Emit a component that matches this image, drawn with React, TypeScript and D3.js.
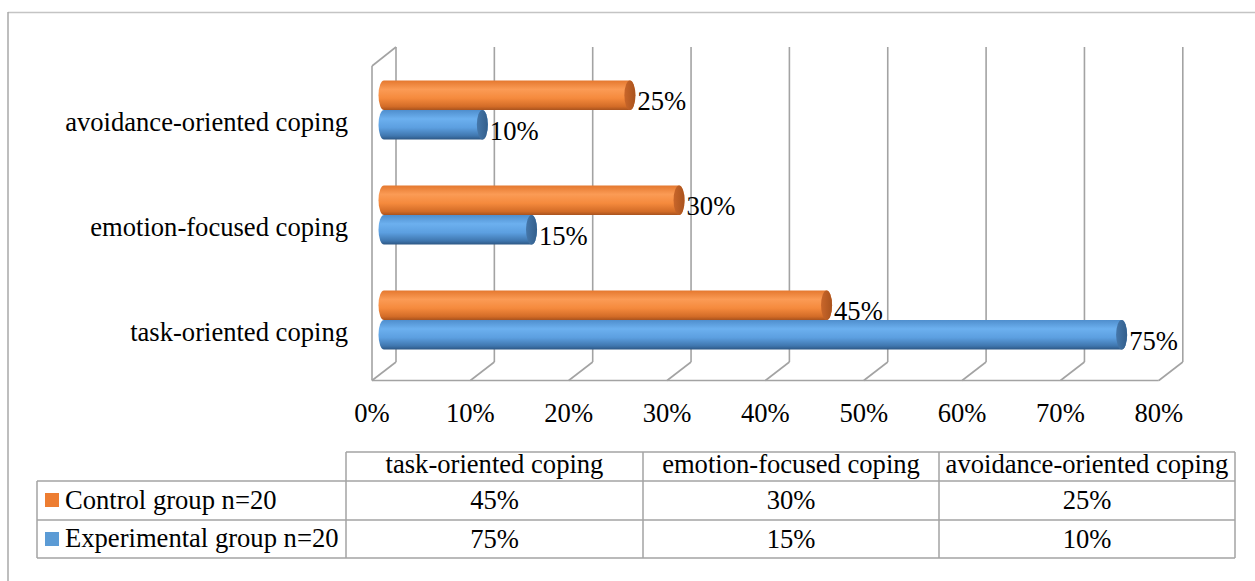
import React from "react";
import * as d3 from "d3";

const categories = ["avoidance-oriented coping", "emotion-focused coping", "task-oriented coping"];
const tableOrder = ["task-oriented coping", "emotion-focused coping", "avoidance-oriented coping"];
const controlValues = [0.25, 0.30, 0.45];
const experimentalValues = [0.10, 0.15, 0.75];
const seriesNames = ["Control group n=20", "Experimental group n=20"];
const ticks = [0, 0.1, 0.2, 0.3, 0.4, 0.5, 0.6, 0.7, 0.8];

const FONT = "'Liberation Serif', 'Times New Roman', serif";
const FS = 26.6;

export default function App() {
  const k = 983.5;
  const front = d3.scaleLinear().domain([0, 0.8]).range([372, 372 + 0.8 * k]);
  const back = d3.scaleLinear().domain([0, 0.8]).range([396, 396 + 0.8 * k]);
  const mid = d3.scaleLinear().domain([0, 0.8]).range([384, 384 + 0.8 * k]);
  const y = d3.scaleBand().domain(categories).range([57.5, 372.5]);
  const barH = 29.5;
  const rx = 5.5;
  const backTop = 47, backBottom = 362, frontBottom = 380.5, frontTop = 66;
  const grid = "#a3a3a3";
  const fmt = d3.format(".0%");

  const cyl = (v: number, top: number, grad: string, cap: string, key: string) => {
    const x0 = mid(0), x1 = mid(v), bot = top + barH, ry = barH / 2;
    const d = `M${x0},${top} L${x1},${top} A${rx},${ry} 0 0 1 ${x1},${bot} L${x0},${bot} A${rx},${ry} 0 0 1 ${x0},${top} Z`;
    return (
      <g key={key}>
        <path d={d} fill={`url(#${grad})`} />
        <ellipse cx={x1} cy={top + ry} rx={rx} ry={ry} fill={`url(#${cap})`} />
      </g>
    );
  };

  const cols = [346, 643, 939, 1235];
  const rows = [452, 481, 520, 558];

  return (
    <svg width={1255} height={581} style={{ position: "absolute", left: 0, top: 0, background: "#fff" }} fontFamily={FONT}>
      <defs>
        <linearGradient id="gO" x1="0" y1="0" x2="0" y2="1">
          <stop offset="0" stopColor="#e4782f" />
          <stop offset="0.3" stopColor="#fb9b55" />
          <stop offset="0.6" stopColor="#f58a3d" />
          <stop offset="0.88" stopColor="#d36c27" />
          <stop offset="1" stopColor="#a9531e" />
        </linearGradient>
        <linearGradient id="gB" x1="0" y1="0" x2="0" y2="1">
          <stop offset="0" stopColor="#4f8ecd" />
          <stop offset="0.3" stopColor="#6cb0ef" />
          <stop offset="0.6" stopColor="#5c9fe0" />
          <stop offset="0.88" stopColor="#3f76ae" />
          <stop offset="1" stopColor="#2d5784" />
        </linearGradient>
        <linearGradient id="cO" x1="0" y1="0" x2="1" y2="0">
          <stop offset="0" stopColor="#c9662a" />
          <stop offset="1" stopColor="#a9531e" />
        </linearGradient>
        <linearGradient id="cB" x1="0" y1="0" x2="1" y2="0">
          <stop offset="0" stopColor="#4577aa" />
          <stop offset="1" stopColor="#335f8c" />
        </linearGradient>
      </defs>

      {/* outer border */}
      <line x1={8} y1={12.5} x2={1255} y2={12.5} stroke="#c4c4c4" strokeWidth={1.5} />
      <line x1={8} y1={12} x2={8} y2={581} stroke="#a8a8a8" strokeWidth={1.5} />

      {/* walls & grid */}
      <line x1={front(0)} y1={frontTop} x2={front(0)} y2={frontBottom} stroke={grid} strokeWidth={1.6} />
      <line x1={front(0)} y1={frontTop} x2={back(0)} y2={backTop} stroke={grid} strokeWidth={1.6} />
      {ticks.map((t) => (
        <g key={t}>
          <line x1={back(t)} y1={backTop} x2={back(t)} y2={backBottom} stroke={grid} strokeWidth={1.6} />
          <line x1={back(t)} y1={backBottom} x2={front(t)} y2={frontBottom} stroke={grid} strokeWidth={1.6} />
        </g>
      ))}
      <line x1={front(0)} y1={frontBottom} x2={front(0.8)} y2={frontBottom} stroke={grid} strokeWidth={1.6} />

      {/* tick labels */}
      {ticks.map((t) => (
        <text key={"t" + t} x={front(t)} y={422} fontSize={FS} textAnchor="middle" fill="#000">
          {fmt(t)}
        </text>
      ))}

      {/* category labels */}
      {categories.map((c) => (
        <text key={c} x={348} y={(y(c) as number) + y.bandwidth() / 2 + 21} fontSize={FS} textAnchor="end" fill="#000">
          {c}
        </text>
      ))}

      {/* bars */}
      {categories.map((c, i) => {
        const center = (y(c) as number) + y.bandwidth() / 2;
        const topO = center - barH;
        const topB = center;
        const vO = controlValues[i];
        const vB = experimentalValues[i];
        return (
          <g key={"b" + c}>
            {cyl(vO, topO, "gO", "cO", "o")}
            <text x={mid(vO) + rx + 2} y={topO + barH / 2 + 15} fontSize={FS} fill="#000">{fmt(vO)}</text>
            {cyl(vB, topB, "gB", "cB", "b")}
            <text x={mid(vB) + rx + 2} y={topB + barH / 2 + 15.5} fontSize={FS} fill="#000">{fmt(vB)}</text>
          </g>
        );
      })}

      {/* data table */}
      <g stroke="#a3a3a3" strokeWidth={1.5} fill="none">
        <line x1={cols[0]} y1={rows[0]} x2={cols[3]} y2={rows[0]} />
        <line x1={37} y1={rows[1]} x2={cols[3]} y2={rows[1]} />
        <line x1={37} y1={rows[2]} x2={cols[3]} y2={rows[2]} />
        <line x1={37} y1={rows[3]} x2={cols[3]} y2={rows[3]} />
        <line x1={37} y1={rows[1]} x2={37} y2={rows[3]} />
        {cols.map((cx) => (
          <line key={"c" + cx} x1={cx} y1={rows[0]} x2={cx} y2={rows[3]} />
        ))}
      </g>
      {tableOrder.map((c, j) => (
        <text key={"h" + c} x={(cols[j] + cols[j + 1]) / 2} y={473} fontSize={FS} textAnchor="middle" fill="#000">{c}</text>
      ))}
      {tableOrder.map((c, j) => {
        const i = categories.indexOf(c);
        return (
          <g key={"v" + c}>
            <text x={(cols[j] + cols[j + 1]) / 2} y={509} fontSize={FS} textAnchor="middle" fill="#000">{fmt(controlValues[i])}</text>
            <text x={(cols[j] + cols[j + 1]) / 2} y={548} fontSize={FS} textAnchor="middle" fill="#000">{fmt(experimentalValues[i])}</text>
          </g>
        );
      })}
      <rect x={45} y={493} width={14} height={14} fill="#ed7d31" />
      <text x={65} y={509} fontSize={FS} fill="#000">{seriesNames[0]}</text>
      <rect x={45} y={532} width={14} height={14} fill="#5b9bd5" />
      <text x={65} y={547} fontSize={FS} fill="#000">{seriesNames[1]}</text>
    </svg>
  );
}
